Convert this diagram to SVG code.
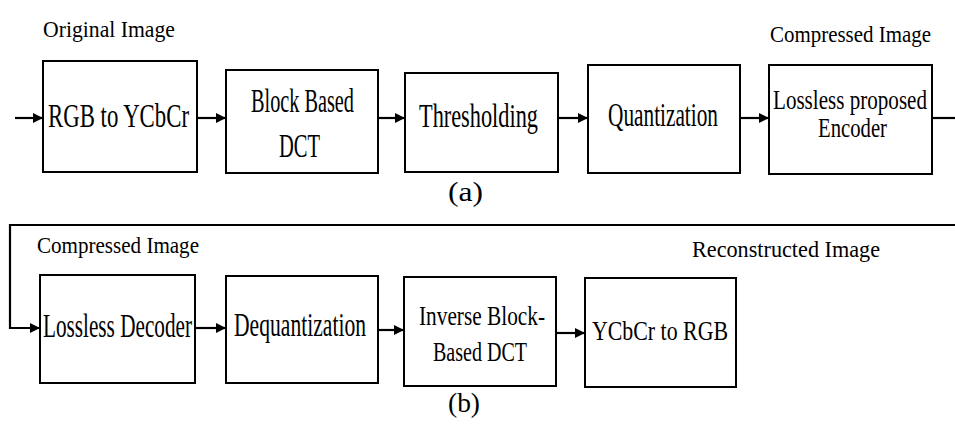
<svg xmlns="http://www.w3.org/2000/svg" width="955" height="429" viewBox="0 0 955 429">
  <style>
    .box { fill: #fff; stroke: #000; stroke-width: 2; }
    .t { font-family: "Liberation Serif", "Times New Roman", serif; fill: #000; }
    .bt { font-size: 33px; }
    .bt2 { font-size: 28px; }
    .lb { font-size: 24px; }
    .wire { fill: none; stroke: #000; stroke-width: 2.2; }
  </style>
  <defs>
    <marker id="arrow" markerUnits="userSpaceOnUse" markerWidth="12" markerHeight="12" viewBox="0 0 12 12" refX="11" refY="6" orient="auto">
      <path d="M1,1 L11,6 L1,11 Z" fill="#000"/>
    </marker>
  </defs>
  <rect width="955" height="429" fill="#fff"/>

  <!-- captions -->
  <text class="t lb" x="43" y="37" textLength="132" lengthAdjust="spacingAndGlyphs">Original Image</text>
  <text class="t lb" x="770" y="42" textLength="161" lengthAdjust="spacingAndGlyphs">Compressed Image</text>
  <text class="t" font-size="27" x="448" y="201" textLength="35" lengthAdjust="spacingAndGlyphs">(a)</text>
  <text class="t lb" x="37" y="253" textLength="162" lengthAdjust="spacingAndGlyphs">Compressed Image</text>
  <text class="t lb" x="692" y="257" textLength="188" lengthAdjust="spacingAndGlyphs">Reconstructed Image</text>
  <text class="t" font-size="27" x="448" y="412" textLength="32" lengthAdjust="spacingAndGlyphs">(b)</text>

  <!-- connectors -->
  <g id="connectors">
    <line class="wire" x1="15" y1="118" x2="43" y2="118" marker-end="url(#arrow)"/>
    <line class="wire" x1="197" y1="118" x2="226" y2="118" marker-end="url(#arrow)"/>
    <line class="wire" x1="378" y1="118" x2="405" y2="118" marker-end="url(#arrow)"/>
    <line class="wire" x1="558" y1="118" x2="588" y2="118" marker-end="url(#arrow)"/>
    <line class="wire" x1="740" y1="118" x2="769" y2="118" marker-end="url(#arrow)"/>
    <line class="wire" x1="932" y1="118" x2="955" y2="118"/>
    <polyline class="wire" points="955,225 10,225 10,328 40,328" marker-end="url(#arrow)"/>
    <line class="wire" x1="195" y1="328" x2="226" y2="328" marker-end="url(#arrow)"/>
    <line class="wire" x1="378" y1="330" x2="404" y2="330" marker-end="url(#arrow)"/>
    <line class="wire" x1="556" y1="333" x2="585" y2="333" marker-end="url(#arrow)"/>
  </g>

  <!-- compression chain -->
  <g id="rgb2ycbcr">
    <rect class="box" x="43" y="61" width="154" height="111"/>
    <text class="t bt" x="48" y="127" textLength="141" lengthAdjust="spacingAndGlyphs">RGB to YCbCr</text>
  </g>
  <g id="dct">
    <rect class="box" x="226" y="70" width="152" height="103"/>
    <text class="t bt" x="251" y="112" textLength="103" lengthAdjust="spacingAndGlyphs">Block Based</text>
    <text class="t bt" x="279" y="157" textLength="41" lengthAdjust="spacingAndGlyphs">DCT</text>
  </g>
  <g id="thresholding">
    <rect class="box" x="405" y="73" width="153" height="99"/>
    <text class="t bt" x="419" y="127" textLength="119" lengthAdjust="spacingAndGlyphs">Thresholding</text>
  </g>
  <g id="quantization">
    <rect class="box" x="588" y="65" width="152" height="108"/>
    <text class="t bt" x="608" y="126" textLength="110" lengthAdjust="spacingAndGlyphs">Quantization</text>
  </g>
  <g id="encoder">
    <rect class="box" x="769" y="65" width="163" height="109"/>
    <text class="t bt2" x="773" y="109" textLength="154" lengthAdjust="spacingAndGlyphs">Lossless proposed</text>
    <text class="t bt2" x="818" y="137" textLength="69" lengthAdjust="spacingAndGlyphs">Encoder</text>
  </g>

  <!-- decompression chain -->
  <g id="decoder">
    <rect class="box" x="40" y="275" width="155" height="108"/>
    <text class="t bt" x="43" y="337" textLength="149" lengthAdjust="spacingAndGlyphs">Lossless Decoder</text>
  </g>
  <g id="dequantization">
    <rect class="box" x="226" y="276" width="152" height="107"/>
    <text class="t bt" x="234" y="336" textLength="132" lengthAdjust="spacingAndGlyphs">Dequantization</text>
  </g>
  <g id="idct">
    <rect class="box" x="404" y="277" width="152" height="109"/>
    <text class="t bt2" x="419" y="325" textLength="126" lengthAdjust="spacingAndGlyphs">Inverse Block-</text>
    <text class="t bt2" x="433" y="361" textLength="94" lengthAdjust="spacingAndGlyphs">Based DCT</text>
  </g>
  <g id="ycbcr2rgb">
    <rect class="box" x="585" y="278" width="151" height="109"/>
    <text class="t bt2" x="592" y="340" textLength="136" lengthAdjust="spacingAndGlyphs">YCbCr to RGB</text>
  </g>
</svg>
